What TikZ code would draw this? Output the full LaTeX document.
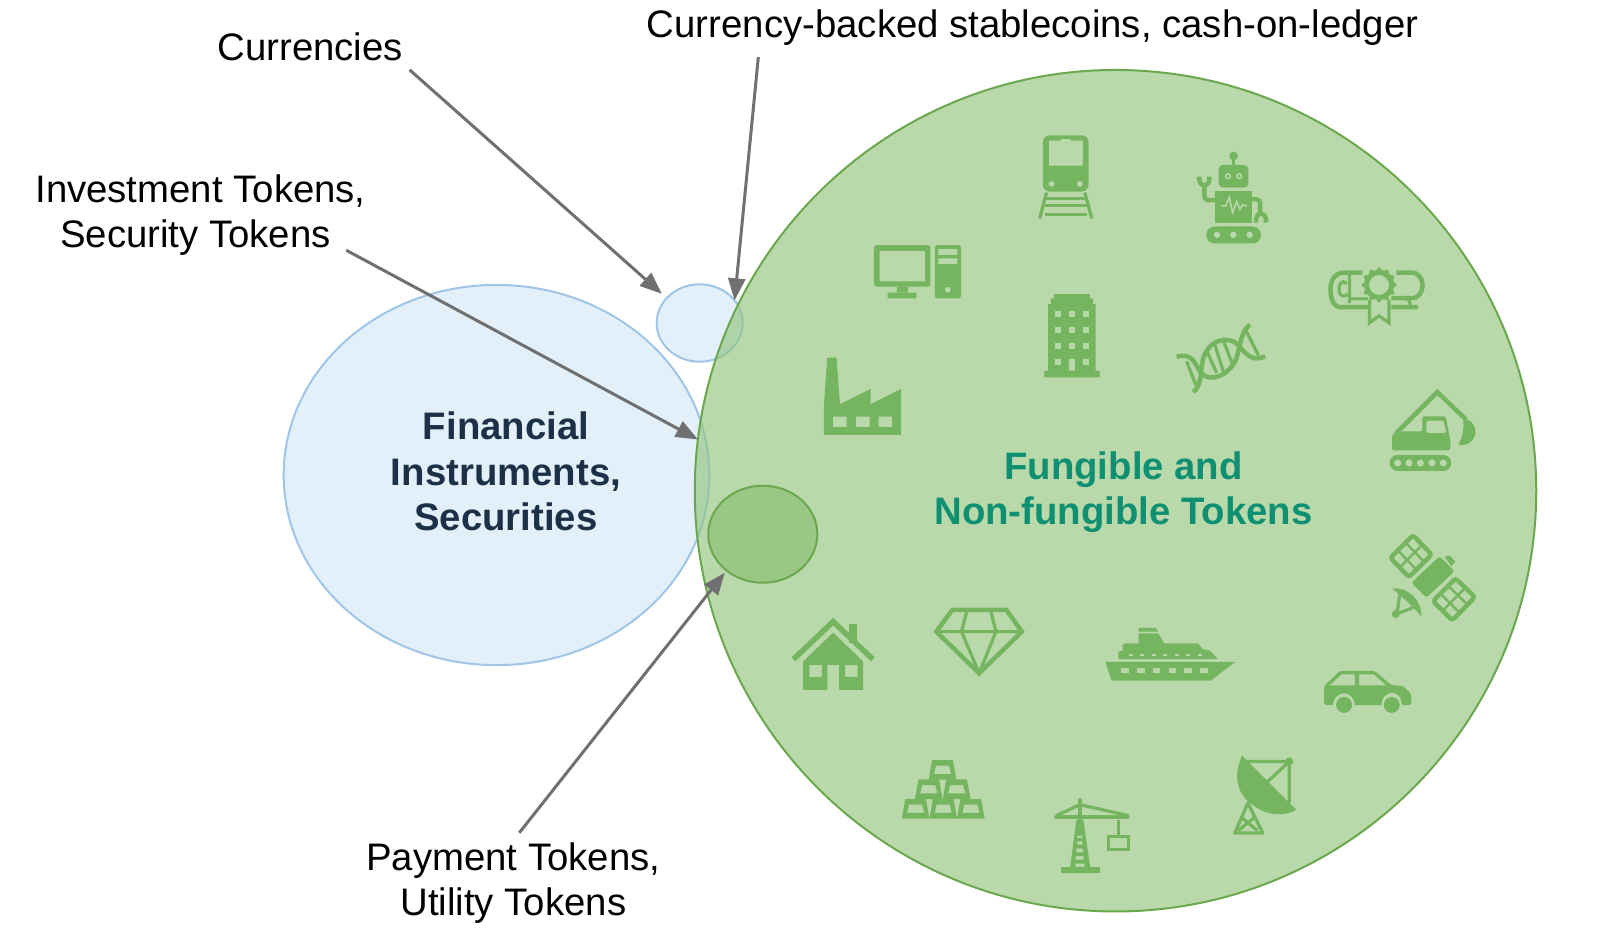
\documentclass[tikz,border=0pt]{standalone}
\usepackage{fontspec}
\setmainfont{Liberation Sans}
\usepackage{tikz}
\usetikzlibrary{arrows.meta,shapes.geometric}
\definecolor{leafGreen}{HTML}{B9D8AA}
\definecolor{tokenGreen}{HTML}{93C47D}
\definecolor{tokenEdge}{HTML}{6AA84F}
\definecolor{iconGreen}{HTML}{75B55F}
\definecolor{finBlue}{HTML}{E3F0FA}
\definecolor{finEdge}{HTML}{9FC5E8}
\definecolor{finText}{HTML}{1C3148}
\definecolor{tokenText}{HTML}{109072}
\definecolor{arrowGray}{HTML}{707070}

\begin{document}
\begin{tikzpicture}[x=0.01cm, y=-0.01cm,
	every node/.style={font=\fontsize{10.9}{12.9}\selectfont},
	caption/.style={inner sep=0.06cm, align=center},
	pointer/.style={draw=arrowGray, line width=0.03cm, -{Triangle[length=0.22cm,width=0.17cm]}},
	finance/.style={ellipse, inner sep=0pt, outer sep=0pt, fill=finBlue, draw=finEdge, line width=0.02cm},
	fungible/.style={inner sep=0pt, outer sep=0pt, fill=tokenGreen, draw=tokenEdge, line width=0.02cm},
	iconfill/.style={fill=iconGreen, even odd rule},
	iconline/.style={draw=iconGreen, line width=0.045cm},
	thinline/.style={draw=iconGreen, line width=0.032cm},
	upperleft/.style={shift={(780,110)}, x=0.003333cm, y=-0.003333cm},
	rightside/.style={shift={(1200,220)}, x=0.003333cm, y=-0.003333cm},
	lowerpart/.style={shift={(770,590)}, x=0.003444cm, y=-0.003333cm}]
	\useasboundingbox (0,0) rectangle (1600,932);

	\node[finance, minimum width=4.254cm, minimum height=3.8cm] (securities) at (496.5,475) {};
	\node[finance, minimum width=0.86cm, minimum height=0.774cm] (currency) at (699.7,323) {};
	\node[fungible, circle, minimum size=8.41cm, fill opacity=0.65] (tokens) at (1115.5,490.7) {};
	\node[fungible, ellipse, minimum width=1.09cm, minimum height=0.97cm, fill opacity=0.85] (payment) at (762.8,534.2) {};

	\node[caption] (currenciesLabel) at (310.2,47) {Currencies};
	\node[caption] (stableLabel) at (1032.6,27.5) {Currency-backed stablecoins, cash-on-ledger};
	\node[caption] (investLabel) at (200.5,215) {Investment Tokens,\\Security Tokens\hspace*{0.1cm}};
	\node[caption] (paymentLabel) at (513.3,883) {Payment Tokens,\\Utility Tokens};
	\node[align=center, text=finText, font=\fontsize{10.9}{13}\selectfont\bfseries] (finName) at (506,471.4) {Financial\\Instruments,\\Securities};
	\node[align=center, text=tokenText, font=\fontsize{10.9}{12.9}\selectfont\bfseries] (tokenName) at (1123.5,492) {Fungible and\\Non-fungible Tokens};

	\draw[pointer, shorten >=0.065cm] ([yshift=-0.02cm]currenciesLabel.south east) -- (currency.143);
	\draw[pointer] ([xshift=1.18cm,yshift=-0.05cm]stableLabel.south west) -- (currency.33);
	\draw[pointer] ([xshift=-0.26cm,yshift=0.12cm]investLabel.south east) -- (tokens.173);
	\draw[pointer, shorten >=0.029cm] ([xshift=0.06cm,yshift=0.03cm]paymentLabel.north) -- (payment.225);

	\begin{scope}[upperleft]
		\fill[iconfill, rounded corners=1.9pt] (790,76) rectangle (927,245) [sharp corners] (808,92) -- (842,92) -- (845,87) -- (872,87) -- (875,92) -- (910,92) -- (910,167) -- (808,167) -- cycle (816,222) circle (9) (901,222) circle (9);
		\draw[thinline] (801,248) -- (780,326) (916,248) -- (937,326);
		\foreach \tieY in {266,288,313} \draw[thinline, line width=0.028cm] (795,\tieY) -- (922,\tieY);
		\fill[iconfill] (1363,138) circle (13);
		\draw[thinline] (1363,140) -- (1363,170);
		\fill[iconfill, rounded corners=1.2pt] (1318,165) rectangle (1407,233) [sharp corners] (1346,199) circle (10) (1346,199) circle (5) (1380,199) circle (10) (1380,199) circle (5);
		\fill[iconfill] (1308,243) rectangle (1418,338);
		\draw[draw=leafGreen, line width=0.015cm] (1325,288) -- (1340,288) -- (1350,262) -- (1360,308) -- (1372,275) -- (1382,298) -- (1390,285) -- (1403,288);
		\draw[iconline, rounded corners=1.2pt] (1308,271) -- (1275,271) -- (1275,225);
		\draw[iconline] (1260,200) .. controls (1255,235) and (1295,235) .. (1290,200);
		\draw[iconline, rounded corners=1.2pt] (1418,268) -- (1443,268) -- (1443,312);
		\draw[iconline] (1431,338) .. controls (1425,303) and (1465,303) .. (1460,338);
		\fill[iconfill, rounded corners=2.3pt] (1281,350) rectangle (1445,401) [sharp corners] (1313,375) circle (10) (1362,375) circle (10) (1411,375) circle (10);
		\fill[iconfill, rounded corners=0.8pt] (282,406) rectangle (452,531) [sharp corners] (299,423) rectangle (436,515);
		\fill[iconfill] (351,531) rectangle (385,550) (323,549) rectangle (410,566);
		\fill[iconfill, rounded corners=0.8pt] (465,406) rectangle (544,566) [sharp corners] (476,417) rectangle (533,435) (476,446) rectangle (533,463) (504,540) circle (9);
		\fill[iconfill] (794,803) -- (960,803) -- (960,783) -- (948,783) -- (948,583) -- (940,583) -- (940,566) -- (931,566) -- (931,553) -- (823,553) -- (823,566) -- (814,566) -- (814,583) -- (806,583) -- (806,783) -- (794,783) -- cycle;
		\foreach \winX in {826,868,910}
			\foreach \winY in {604,652,700}
				\fill[leafGreen] (\winX,\winY) rectangle ++(18,18);
		\fill[leafGreen] (826,748) rectangle ++(18,18) (910,748) rectangle ++(18,18) (868,748) rectangle ++(18,35);
		\draw[iconline] (1192,742) .. controls (1240,725) and (1250,770) .. (1265,790) .. controls (1290,820) and (1350,800) .. (1372,745) .. controls (1382,710) and (1385,665) .. (1412,645);
		\draw[iconline] (1242,848) .. controls (1270,825) and (1262,780) .. (1272,745) .. controls (1290,690) and (1340,680) .. (1370,700) .. controls (1400,730) and (1415,760) .. (1458,740);
		\draw[thinline] (1222,755) -- (1250,828) (1283,725) -- (1312,790) (1305,700) -- (1335,795) (1332,692) -- (1362,770) (1400,662) -- (1438,738);
		\fill[iconfill] (132,976) -- (364,976) -- (364,838) -- (272,884) -- (272,838) -- (180,884) -- (170,744) -- (142,744) -- (132,884) -- cycle (159,921) rectangle (200,953) (228,921) rectangle (269,953) (296,921) rectangle (337,953);
	\end{scope}

	\begin{scope}[rightside]
		\draw[iconline] (655,262) -- (575,262) (505,262) -- (425,262) .. controls (400,262) and (392,235) .. (392,210) .. controls (392,180) and (405,158) .. (435,158) -- (488,158) (590,158) -- (635,158) .. controls (680,158) and (680,235) .. (635,235) -- (575,235);
		\draw[thinline] (440,192) .. controls (428,175) and (415,195) .. (418,212) .. controls (420,232) and (438,232) .. (442,222);
		\draw[thinline] (449,165) -- (449,250) (449,237) -- (505,237) (625,235) -- (635,262);
		\fill[iconfill] (538,195) circle (45) (538,195) circle (30);
		\foreach \toothA in {0,30,...,330}
			\fill[iconfill] ({538+45*cos(\toothA)},{195+45*sin(\toothA)}) circle (7);
		\draw[thinline] (509,240) -- (509,309) -- (538,288) -- (568,309) -- (568,240);
		\draw[iconline] (590,640) -- (713,517) -- (800,600);
		\fill[iconfill] (790,597) .. controls (820,600) and (830,625) .. (828,640) .. controls (825,665) and (800,680) .. (776,676) .. controls (790,650) and (795,620) .. (790,597) -- cycle;
		\fill[iconfill, rounded corners=0.6pt] (577,692) -- (577,645) -- (590,635) -- (668,635) -- (668,590) -- (738,590) -- (752,660) -- (752,692) -- cycle (680,603) -- (733,603) -- (740,640) -- (680,640) -- cycle;
		\fill[iconfill, rounded corners=2.2pt] (570,706) rectangle (755,754) [sharp corners] (594,730) circle (11) (628,730) circle (11) (662,730) circle (11) (697,730) circle (11) (731,730) circle (11);
		\fill[iconfill, rounded corners=0.8pt] (635,1090) -- (680,1135) -- (765,1055) -- (720,1010) -- cycle;
		\fill[iconfill] (735,1012) -- (750,1008) -- (767,1027) -- (755,1040) -- cycle;
		\draw[iconline, rounded corners=0.8pt] (640,947) -- (696,1005) -- (628,1073) -- (572,1015) -- cycle;
		\draw[iconline, rounded corners=0.8pt] (768,1077) -- (826,1133) -- (758,1203) -- (700,1145) -- cycle;
		\draw[thinline, line width=0.024cm] (616.7,968.3) -- (674.7,1028.3) (593.3,991.7) -- (651.3,1051.7) (669,975) -- (599,1045) (744.7,1098.3) -- (804.7,1157) (721.3,1121.7) -- (781.3,1181) (798,1104) -- (728,1175);
		\fill[iconfill] (578,1108) .. controls (625,1100) and (668,1145) .. (665,1192) .. controls (650,1170) and (605,1130) .. (578,1108) -- cycle;
		\draw[thinline] (600,1125) -- (592,1183) -- (640,1165);
		\fill[iconfill] (588,1184) circle (12);
		\fill[iconfill, rounded corners=0.8pt] (373,1452) -- (373,1400) -- (420,1355) -- (525,1355) -- (575,1398) -- (610,1400) -- (635,1425) -- (635,1458) -- (605,1458) [sharp corners] .. controls (605,1410) and (545,1410) .. (545,1458) -- (465,1458) .. controls (465,1410) and (400,1410) .. (400,1458) -- (380,1458) -- cycle (390,1398) -- (425,1365) -- (465,1365) -- (465,1398) -- cycle (478,1365) -- (522,1365) -- (560,1398) -- (478,1398) -- cycle;
		\fill[iconfill] (433,1457) circle (24) (576,1457) circle (24);
	\end{scope}

	\begin{scope}[lowerpart]
		\fill[iconfill] (230,102) rectangle (253,160);
		\draw[iconline, line width=0.055cm] (68,208) -- (183,95) -- (298,208);
		\fill[iconfill] (96,300) -- (96,215) -- (183,128) -- (270,215) -- (270,300) -- (200,300) -- (200,225) -- (166,225) -- (166,300) -- cycle (114,225) rectangle (150,261) (218,225) rectangle (254,261);
		\draw[iconline] (528,60) -- (685,60) -- (730,125) -- (606,250) -- (482,125) -- cycle;
		\draw[thinline] (482,125) -- (730,125) (570,65) -- (555,125) -- (606,250) -- (655,125) -- (640,65);
		\fill[iconfill] (972,216) -- (1348,216) -- (1278,272) -- (990,272) -- cycle;
		\foreach \portX in {1018,1064,1109,1155,1200,1246}
			\fill[leafGreen] (\portX,235) rectangle ++(22,14);
		\fill[iconfill] (1010,208) -- (1010,185) -- (1022,182) -- (1022,165) -- (1030,160) -- (1068,160) -- (1068,130) -- (1125,130) -- (1142,160) -- (1240,160) -- (1255,178) -- (1275,182) -- (1298,208) -- cycle;
		\fill[iconfill] (1068,114) -- (1118,114) -- (1125,125) -- (1068,125) -- cycle;
		\foreach \portX in {1040,1073,1106,1140,1173,1206,1239}
			\fill[leafGreen] (\portX,191) rectangle ++(12,8);
		\foreach \barX/\barY in {422/687,502/687,582/687,460/628,541/628,500/570}
			\fill[iconfill] (\barX-40,\barY) -- (\barX+40,\barY) -- (\barX+30,\barY-59) -- (\barX-30,\barY-59) -- cycle (\barX-25,\barY-17) -- (\barX+25,\barY-17) -- (\barX+19,\barY-42) -- (\barX-19,\barY-42) -- cycle;
		\fill[iconfill] (842,832) rectangle (956,850);
		\fill[iconfill] (888,690) -- (908,690) -- (928,832) -- (870,832) -- cycle (890,738) rectangle (905,745) (890,755) rectangle (905,765) (888,777) rectangle (907,788) (886,800) rectangle (909,810) (885,822) rectangle (912,832);
		\draw[iconline, line cap=round] (830,682) -- (1036,682) (898,632) -- (898,690);
		\draw[thinline] (830,678) -- (898,645) -- (1040,678);
		\draw[thinline] (1010,690) -- (1010,740);
		\draw[thinline] (982,740) rectangle (1040,780);
		\fill[iconfill] (1368,498) .. controls (1340,560) and (1355,620) .. (1405,650) .. controls (1445,680) and (1495,680) .. (1525,660) -- cycle;
		\fill[iconfill] (1505,515) circle (12);
		\draw[thinline] (1375,515) -- (1505,515) -- (1505,640) (1505,515) -- (1440,578);
		\draw[thinline, line join=round] (1385,640) -- (1347,730) -- (1428,730) -- cycle (1368,685) -- (1412,722) (1402,685) -- (1358,722);
	\end{scope}
\end{tikzpicture}
\end{document}
